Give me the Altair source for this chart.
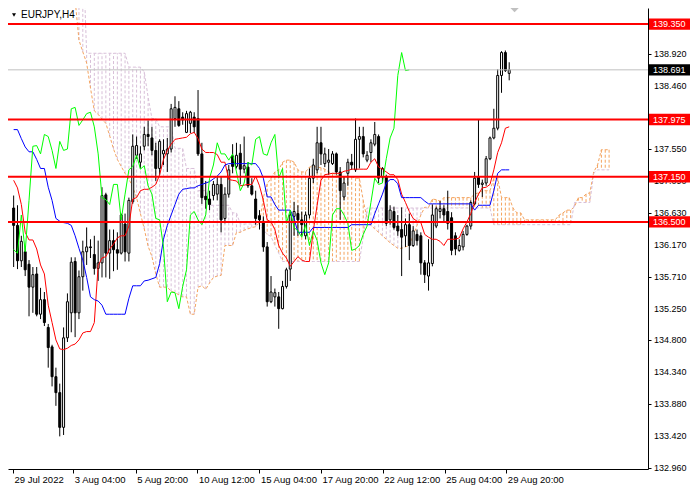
import altair as alt
import pandas as pd

# ---------------- values ----------------
symbol_title = "EURJPY,H4"

open_ = [136.70, 136.45, 135.94, 136.07, 135.89, 135.56, 135.75, 135.17, 135.38, 134.98,
         134.70, 134.27, 134.04, 133.54, 134.83, 135.19, 135.93, 135.19, 135.71, 136.07,
         136.14, 136.03, 135.83, 135.91, 136.89, 136.05, 136.23, 136.10, 136.05, 136.47,
         136.05, 136.79, 137.46, 137.36, 137.59, 137.76, 137.71, 137.53, 137.27, 137.48,
         137.48, 137.55, 137.99, 138.13, 138.01, 137.79, 137.92, 138.01, 137.99, 137.48,
         136.87, 136.83, 136.88, 136.90, 137.04, 136.55, 136.90, 137.45, 137.30, 137.49,
         137.26, 137.29, 137.02, 136.83, 136.59, 136.51, 136.14, 135.35, 135.42, 135.42,
         135.25, 135.57, 135.82, 136.58, 136.62, 136.53, 136.30, 136.60, 137.13, 137.25,
         137.64, 137.34, 137.36, 137.34, 137.48, 137.22, 136.86, 137.20, 137.36, 137.25,
         137.69, 137.73, 137.39, 137.50, 137.62, 137.73, 137.15, 137.15, 136.53, 136.65,
         136.44, 136.39, 136.30, 136.46, 136.16, 136.32, 136.30, 135.91, 135.72, 135.90,
         136.44, 136.65, 136.69, 136.65, 136.56, 136.30, 136.09, 136.14, 136.32, 136.44,
         136.76, 137.15, 137.04, 137.06, 137.41, 137.71, 137.85, 138.61, 138.94, 138.64]

high_ = [136.88, 136.74, 136.30, 136.15, 135.95, 135.85, 135.85, 135.55, 135.49, 135.03,
         134.73, 134.40, 134.17, 134.98, 135.47, 135.99, 135.99, 135.80, 136.23, 136.42,
         136.25, 136.30, 136.23, 137.00, 136.92, 136.39, 136.39, 136.35, 136.62, 136.62,
         136.85, 137.76, 137.73, 137.59, 137.87, 137.96, 137.87, 137.64, 137.69, 137.69,
         137.71, 138.20, 138.31, 138.24, 138.08, 138.10, 138.10, 138.08, 138.40, 137.64,
         137.09, 136.95, 137.09, 137.16, 137.16, 137.00, 137.32, 137.62, 137.64, 137.62,
         137.73, 137.36, 137.13, 136.95, 136.67, 136.58, 136.21, 135.72, 135.54, 135.49,
         135.65, 135.84, 136.65, 136.79, 136.74, 136.65, 136.65, 137.27, 137.41, 137.87,
         137.87, 137.57, 137.55, 137.52, 137.50, 137.29, 137.15, 137.41, 137.48, 137.99,
         137.87, 137.87, 137.52, 137.69, 137.94, 137.76, 137.29, 137.18, 136.74, 136.72,
         136.60, 136.71, 136.55, 136.62, 136.44, 136.39, 136.35, 135.95, 136.25, 136.75,
         136.72, 136.80, 136.74, 136.95, 136.64, 136.35, 136.25, 136.37, 136.46, 136.81,
         137.22, 137.98, 137.11, 137.45, 137.73, 138.13, 138.70, 138.96, 138.97, 138.80]

low_ = [135.85, 135.82, 135.85, 135.72, 135.14, 135.19, 135.14, 135.10, 135.00, 134.40,
        134.13, 133.85, 133.41, 133.43, 134.77, 134.91, 134.84, 135.10, 135.51, 135.88,
        135.98, 135.74, 135.65, 135.70, 135.70, 135.68, 135.79, 135.81, 136.03, 135.93,
        135.93, 136.76, 137.41, 137.27, 137.53, 137.59, 137.46, 137.09, 137.18, 137.32,
        137.22, 137.50, 137.87, 137.87, 137.90, 137.78, 137.78, 137.78, 137.45, 136.76,
        136.69, 136.67, 136.81, 136.81, 136.35, 136.48, 136.85, 137.20, 137.27, 137.04,
        137.20, 136.99, 136.88, 136.46, 136.39, 136.07, 135.28, 135.33, 135.28, 134.96,
        135.24, 135.54, 135.65, 136.30, 136.30, 136.30, 136.25, 136.55, 137.06, 137.20,
        137.32, 137.29, 137.18, 137.32, 137.18, 136.53, 136.81, 137.02, 137.25, 137.22,
        137.27, 137.43, 137.36, 137.36, 137.59, 137.06, 137.06, 136.44, 136.46, 136.39,
        136.30, 135.72, 136.14, 135.95, 136.14, 136.16, 135.74, 135.62, 135.51, 135.86,
        136.41, 136.55, 136.50, 136.39, 136.02, 136.02, 136.07, 136.09, 136.30, 136.39,
        136.74, 136.99, 136.86, 137.02, 137.39, 137.69, 137.82, 138.36, 138.66, 138.54]

close_ = [136.45, 135.94, 136.22, 135.81, 135.56, 135.74, 135.17, 135.38, 135.05, 134.69,
          134.27, 134.04, 133.54, 134.83, 135.35, 135.92, 135.19, 135.71, 136.07, 136.14,
          136.13, 135.83, 135.91, 136.88, 136.05, 136.23, 136.10, 136.05, 136.60, 136.07,
          136.81, 137.59, 137.60, 137.48, 137.76, 137.73, 137.53, 137.27, 137.66, 137.53,
          137.55, 138.13, 138.15, 137.89, 137.97, 138.06, 138.08, 137.87, 137.48, 136.85,
          136.82, 136.75, 137.04, 137.04, 136.53, 136.90, 137.25, 137.30, 137.46, 137.26,
          137.31, 137.02, 136.90, 136.55, 136.53, 136.14, 135.35, 135.49, 135.48, 135.25,
          135.57, 135.81, 136.60, 136.65, 136.53, 136.46, 136.60, 137.13, 137.32, 137.64,
          137.48, 137.48, 137.39, 137.48, 137.22, 136.95, 137.06, 137.36, 137.32, 137.69,
          137.73, 137.48, 137.46, 137.64, 137.76, 137.13, 137.27, 136.48, 136.67, 136.42,
          136.37, 136.28, 136.46, 136.16, 136.37, 136.23, 135.91, 135.74, 135.91, 136.60,
          136.69, 136.69, 136.60, 136.48, 136.09, 136.11, 136.16, 136.32, 136.44, 136.78,
          137.13, 137.04, 137.06, 137.41, 137.71, 137.85, 138.61, 138.94, 138.68, 138.691]

tenkan = [137.10, 136.99, 136.75, 136.35, 136.24, 136.24, 136.11, 135.88, 135.75, 135.30,
          135.05, 134.80, 134.67, 134.66, 134.68, 134.72, 134.74, 134.80, 134.90, 134.92,
          134.92, 135.05, 135.87, 135.98, 136.00, 136.11, 136.18, 136.27, 136.30, 136.30,
          136.44, 136.83, 136.85, 136.95, 136.97, 136.97, 137.00, 137.04, 137.18, 137.40,
          137.53, 137.62, 137.69, 137.70, 137.71, 137.72, 137.77, 137.79, 137.70, 137.55,
          137.50, 137.50, 137.50, 137.47, 137.36, 137.36, 137.11, 137.10, 137.09, 137.02,
          137.03, 137.04, 137.04, 137.16, 137.02, 136.81, 136.53, 136.50, 136.39, 136.16,
          136.05, 135.98, 135.86, 135.93, 136.00, 135.95, 135.93, 135.93, 136.37, 136.74,
          137.10, 137.18, 137.19, 137.20, 137.20, 137.20, 137.23, 137.24, 137.26, 137.26,
          137.26, 137.26, 137.26, 137.36, 137.41, 137.29, 137.26, 137.22, 137.18, 137.18,
          137.11, 136.90, 136.78, 136.65, 136.55, 136.51, 136.49, 136.32, 136.28, 136.25,
          136.25, 136.22, 136.16, 136.25, 136.25, 136.25, 136.27, 136.40, 136.50, 136.62,
          136.78, 136.90, 136.99, 137.00, 137.04, 137.25, 137.50, 137.64, 137.85, 137.87]

kijun = [137.83, 137.83, 137.70, 137.58, 137.51, 137.51, 137.40, 137.27, 137.27, 137.00,
         136.81, 136.55, 136.51, 136.49, 136.48, 136.45, 136.30, 136.12, 135.95, 135.70,
         135.42, 135.38, 135.36, 135.30, 135.17, 135.17, 135.17, 135.17, 135.17, 135.17,
         135.40, 135.58, 135.58, 135.58, 135.65, 135.66, 135.68, 135.70, 135.90, 136.25,
         136.45, 136.60, 136.75, 136.90, 136.97, 136.98, 136.99, 136.99, 137.02, 137.04,
         137.06, 137.08, 137.12, 137.16, 137.22, 137.32, 137.34, 137.34, 137.34, 137.34,
         137.34, 137.34, 137.34, 137.34, 137.27, 137.13, 136.86, 136.86, 136.75, 136.67,
         136.67, 136.67, 136.67, 136.55, 136.35, 136.35, 136.35, 136.35, 136.42, 136.42,
         136.42, 136.42, 136.42, 136.42, 136.42, 136.42, 136.42, 136.42, 136.46, 136.46,
         136.46, 136.46, 136.46, 136.46, 136.62, 136.76, 136.90, 137.06, 137.11, 137.11,
         137.05, 136.85, 136.85, 136.85, 136.85, 136.85, 136.85, 136.80, 136.76, 136.76,
         136.76, 136.76, 136.76, 136.76, 136.76, 136.76, 136.76, 136.76, 136.76, 136.76,
         136.67, 136.74, 136.74, 136.74, 136.74, 136.95, 137.20, 137.25, 137.25, 137.25]

# Senkou spans, bar 0 .. 155 (the cloud runs 26 bars past the last candle)
senkou_a = ([140.20] * 16 +
            [139.70, 139.12, 138.95, 138.79, 138.43, 138.10, 138.05, 137.98, 137.92, 137.74,
             137.55, 137.40, 137.30, 137.20, 137.12, 137.00, 136.85, 136.62, 136.40, 136.15,
             136.00, 135.75, 135.56, 135.56, 135.56, 135.50, 135.48, 135.45, 135.42, 135.42,
             135.17, 135.17, 135.56, 135.58, 135.53, 135.62, 135.70, 135.72, 135.73, 136.16,
             136.16, 136.16, 136.35, 136.35, 136.38, 136.40, 136.42, 136.43, 136.49, 136.85,
             137.05, 137.13, 137.22, 137.25, 137.36, 137.39, 137.39, 137.36, 137.25, 137.22,
             137.22, 137.29, 137.30, 137.29, 137.28, 137.26, 137.22, 137.20, 137.18, 137.15,
             137.15, 137.15, 137.15, 137.13, 137.13, 136.81, 136.55, 136.45, 136.40, 136.35,
             136.30, 136.25, 136.20, 136.16, 136.12, 136.12, 136.14, 136.16, 136.30, 136.45,
             136.60, 136.71, 136.71, 136.83, 136.82, 136.80, 136.85, 136.85, 136.85, 136.85,
             136.85, 136.85, 136.85, 136.85, 136.90, 136.92, 136.95, 136.95, 136.95, 137.13,
             137.13, 136.85, 136.85, 136.85, 136.70, 136.63, 136.63, 136.53, 136.53, 136.53,
             136.53, 136.53, 136.53, 136.53, 136.53, 136.53, 136.60, 136.63, 136.67, 136.67,
             136.72, 136.85, 136.85, 136.90, 136.92, 137.22, 137.32, 137.54, 137.54, 137.54])

senkou_b = ([140.50] * 19 + [138.93] * 11 + [138.73] * 4 + [138.66, 138.30, 137.99, 137.99] +
            [137.87] * 4 + [137.56] * 3 + [137.27] * 3 + [136.95] * 3 + [136.74] * 6 +
            [136.63] * 2 + [136.47] * 6 + [136.39, 136.32, 136.29, 136.16, 136.05] +
            [135.93] * 21 + [136.28] + [136.70] * 33 + [136.46] * 21 + [136.78] * 5 +
            [137.20] + [137.25] * 4)

chikou_shift = 26

level_prices = [139.350, 137.975, 137.150, 136.500]
level_labels = ["139.350", "137.975", "137.150", "136.500"]
bid_price = [138.691]
bid_label = ["138.691"]

y_tick_values = [138.920, 138.460, 137.550, 137.090, 136.630, 136.170, 135.710,
                 135.250, 134.800, 134.340, 133.880, 133.420, 132.960]
y_tick_labels = ["138.920", "138.460", "137.550", "137.090", "136.630", "136.170", "135.710",
                 "135.250", "134.800", "134.340", "133.880", "133.420", "132.960"]
x_tick_bars = [-0.15, 15.53, 31.81, 47.83, 63.98, 80.03, 96.08, 112.21, 128.26]
x_tick_labels = ["29 Jul 2022", "3 Aug 04:00", "5 Aug 20:00", "10 Aug 12:00",
                 "15 Aug 04:00", "17 Aug 20:00", "22 Aug 12:00", "25 Aug 04:00",
                 "29 Aug 20:00"]
chart_shift_bar = [130.4]

# ---------------- layout / style ----------------
W, H = 640, 461
FONT = "Liberation Sans"
X_DOMAIN = [-0.17, 163.83]
Y_DOMAIN = [132.94, 139.582]
BOX_HALF = 0.082

xs = alt.Scale(domain=X_DOMAIN, nice=False, zero=False)
ys = alt.Scale(domain=Y_DOMAIN, nice=False, zero=False)

candles = pd.DataFrame({"j": list(range(len(open_))), "o": open_, "h": high_,
                        "l": low_, "c": close_})
lines_df = pd.DataFrame({"j": list(range(len(tenkan))), "tenkan": tenkan, "kijun": kijun})
cloud = pd.DataFrame({"j": list(range(len(senkou_a))), "a": senkou_a, "b": senkou_b})
levels = pd.DataFrame({"p": level_prices, "label": level_labels})
bid = pd.DataFrame({"p": bid_price, "label": bid_label})
yticks = pd.DataFrame({"p": y_tick_values, "label": y_tick_labels})
shift_df = pd.DataFrame({"j": chart_shift_bar})
title_df = pd.DataFrame({"t": [symbol_title]})

labels_js = "[" + ",".join("'%s'" % s for s in x_tick_labels) + "]"
vals_js = "[" + ",".join(repr(v) for v in x_tick_bars) + "]"

x_axis = alt.Axis(orient="bottom", values=x_tick_bars,
                  labelExpr="%s[indexof(%s, datum.value)]" % (labels_js, vals_js),
                  tickSize=4, tickColor="black", domainColor="black", domainWidth=1,
                  labelAlign="left", labelBaseline="top", labelPadding=1, labelOffset=1,
                  labelFont=FONT, labelFontSize=9.5, labelColor="black",
                  labelOverlap=False, labelFlush=False, labelBound=False,
                  grid=False, title=None)
y_axis = alt.Axis(orient="right", values=y_tick_values, labels=False,
                  tickSize=3, tickColor="black", domainColor="black", domainWidth=1,
                  grid=False, title=None)


def X(f):
    return alt.X(f, scale=xs)


def Y(f):
    return alt.Y(f, scale=ys)


# cloud hatching: one dotted vertical stroke per bar between the two spans
hatch = alt.Chart(cloud).mark_rule(strokeWidth=1, strokeDash=[3, 2], clip=True).encode(
    x=alt.X("j:Q", scale=xs, axis=x_axis),
    y=alt.Y("a:Q", scale=ys, axis=y_axis),
    y2="b:Q",
    color=alt.condition("datum.a >= datum.b", alt.value("#f4a460"), alt.value("#d8bfd8")),
)
span_a_line = alt.Chart(cloud).mark_line(color="#f4a460", strokeWidth=1,
                                         strokeDash=[3, 2], clip=True).encode(
    x=X("j:Q"), y=Y("a:Q"))
span_b_line = alt.Chart(cloud).mark_line(color="#d8bfd8", strokeWidth=1,
                                         strokeDash=[3, 2], clip=True).encode(
    x=X("j:Q"), y=Y("b:Q"))

wicks = alt.Chart(candles).mark_rule(color="black", strokeWidth=1, clip=True).encode(
    x=X("j:Q"), y=Y("l:Q"), y2="h:Q")
bodies = alt.Chart(candles).mark_bar(size=2, stroke="black", strokeWidth=1, clip=True).encode(
    x=X("j:Q"), y=Y("o:Q"), y2="c:Q",
    fill=alt.condition("datum.c >= datum.o", alt.value("white"), alt.value("black")))

tenkan_line = alt.Chart(lines_df).mark_line(color="#ff0000", strokeWidth=1, clip=True).encode(
    x=X("j:Q"), y=Y("tenkan:Q"))
kijun_line = alt.Chart(lines_df).mark_line(color="#0000ff", strokeWidth=1, clip=True).encode(
    x=X("j:Q"), y=Y("kijun:Q"))
chikou_line = alt.Chart(candles).transform_calculate(
    cj="datum.j - %d" % chikou_shift
).transform_filter("datum.cj >= 0").mark_line(color="#00ff00", strokeWidth=1, clip=True).encode(
    x=X("cj:Q"), y=Y("c:Q"))

bid_line = alt.Chart(bid).mark_rule(color="#c0c0c0", strokeWidth=1).encode(
    y=Y("p:Q"), x=alt.value(0), x2=alt.value(W))
level_lines = alt.Chart(levels).mark_rule(color="#ff0000", strokeWidth=2).encode(
    y=Y("p:Q"), x=alt.value(0), x2=alt.value(W))

ytick_text = alt.Chart(yticks).mark_text(align="left", baseline="middle", color="black",
                                         font=FONT, fontSize=9).encode(
    y=Y("p:Q"), x=alt.value(W + 6), text="label:N")

level_boxes = alt.Chart(levels).transform_calculate(
    top="datum.p + %f" % BOX_HALF, bot="datum.p - %f" % BOX_HALF
).mark_rect(color="#ff0000").encode(
    y=Y("top:Q"), y2="bot:Q", x=alt.value(W + 1), x2=alt.value(W + 42))
level_text = alt.Chart(levels).mark_text(align="left", baseline="middle", color="white",
                                         font=FONT, fontSize=9).encode(
    y=Y("p:Q"), x=alt.value(W + 5), text="label:N")

bid_box = alt.Chart(bid).transform_calculate(
    top="datum.p + %f" % BOX_HALF, bot="datum.p - %f" % BOX_HALF
).mark_rect(color="black").encode(
    y=Y("top:Q"), y2="bot:Q", x=alt.value(W + 1), x2=alt.value(W + 42))
bid_text = alt.Chart(bid).mark_text(align="left", baseline="middle", color="white",
                                    font=FONT, fontSize=9).encode(
    y=Y("p:Q"), x=alt.value(W + 5), text="label:N")

shift_mark = alt.Chart(shift_df).mark_point(shape="diamond", filled=True, color="#c0c0c0",
                                            size=70, opacity=1).encode(
    x=X("j:Q"), y=alt.value(0))

title_tri = alt.Chart(title_df).mark_point(shape="triangle-down", filled=True, color="black",
                                           size=16, opacity=1).encode(
    x=alt.value(6), y=alt.value(7))
title_text = alt.Chart(title_df).mark_text(align="left", baseline="middle", color="black",
                                           font=FONT, fontSize=10).encode(
    x=alt.value(13), y=alt.value(7), text="t:N")

chart = alt.layer(
    hatch, span_a_line, span_b_line, wicks, bodies,
    tenkan_line, kijun_line, chikou_line,
    bid_line, level_lines, ytick_text, level_boxes, level_text, bid_box, bid_text,
    shift_mark, title_tri, title_text,
).properties(
    width=W, height=H,
    autosize=alt.AutoSizeParams(type="none"),
    padding={"left": 0, "top": 0, "right": 44, "bottom": 17},
    background="white",
).configure_view(stroke=None)

chart.save("out.html", embed_options={"renderer": "svg", "actions": False})
